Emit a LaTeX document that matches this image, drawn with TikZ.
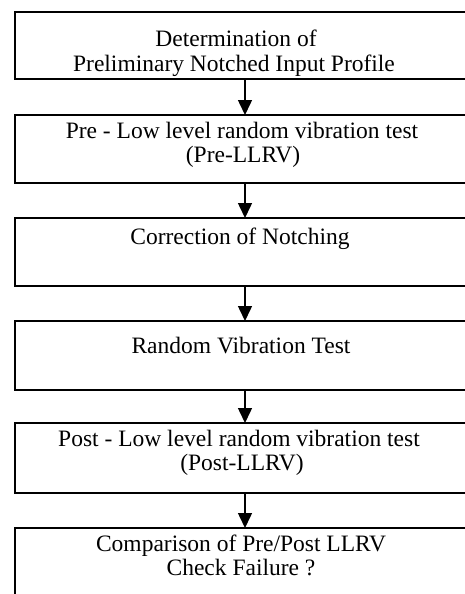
\documentclass[tikz,border=0pt]{standalone}
\usepackage{fontspec}
\setmainfont{Liberation Serif}
\usetikzlibrary{arrows.meta}
\begin{document}
\begin{tikzpicture}[x=1pt,y=-1pt,
  box/.style={draw=black, line width=1.8pt, rectangle, inner sep=0pt, outer sep=0pt, minimum width=460pt},
  txt/.style={inner sep=0pt, anchor=base, font=\fontsize{23.5}{24}\selectfont},
  flow/.style={line width=1.5pt, -{Triangle[width=14pt,length=15pt]}}]
\path[use as bounding box, clip] (0,0) rectangle (465,594);
\fill[white] (0,0) rectangle (465,594);
% boxes
\node[box, minimum height=67pt] (b1) at (245,45.5) {};
\node[box, minimum height=68pt] (b2) at (245,149) {};
\node[box, minimum height=68pt] (b3) at (245,252) {};
\node[box, minimum height=69pt] (b4) at (245,355.5) {};
\node[box, minimum height=70pt] (b5) at (245,458) {};
\node[box, minimum height=72pt] (b6) at (245,564) {};
% texts
\node[txt] (t1a) at (236,47) {Determination of};
\node[txt] (t1b) at (234,71) {Preliminary Notched Input Profile};
\node[txt] (t2a) at (242,138) {Pre - Low level random vibration test};
\node[txt] (t2b) at (243,162) {(Pre-LLRV)};
\node[txt] (t3) at (240,244) {Correction of Notching};
\node[txt] (t4) at (241,353) {Random Vibration Test};
\node[txt] (t5a) at (239,446) {Post - Low level random vibration test};
\node[txt] (t5b) at (242,470) {(Post-LLRV)};
\node[txt] (t6a) at (241,551) {Comparison of Pre/Post LLRV};
\node[txt] (t6b) at (241,575) {Check Failure ?};
% arrows
\draw[flow] (b1.south) -- (b2.north);
\draw[flow] (b2.south) -- (b3.north);
\draw[flow] (b3.south) -- (b4.north);
\draw[flow] (b4.south) -- (b5.north);
\draw[flow] (b5.south) -- (b6.north);
\end{tikzpicture}
\end{document}
